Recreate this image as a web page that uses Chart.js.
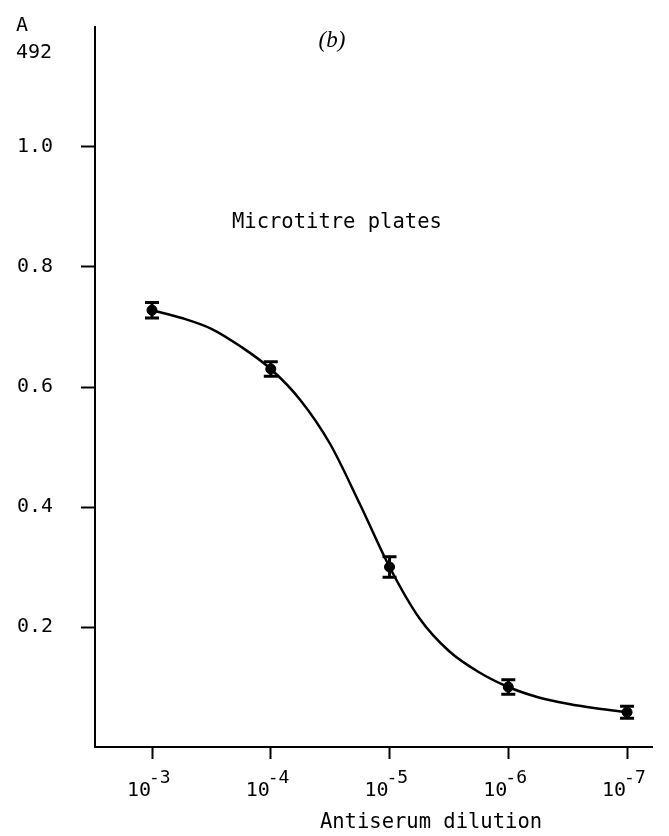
<!DOCTYPE html>
<html>
<head>
<meta charset="utf-8">
<script src="https://cdn.jsdelivr.net/npm/chart.js@4"></script>
<style>
  html, body { margin: 0; padding: 0; background: #fff; }
  #wrap { width: 669px; height: 836px; position: relative; }
</style>
</head>
<body>
<div id="wrap"><canvas id="chart" width="669" height="836"></canvas></div>
<script>
// dilution exponents (10^-n) and measured absorbance at 492 nm
const dilutionExp = [3, 4, 5, 6, 7];
const absorbance = [0.728, 0.63, 0.30, 0.10, 0.058];
const errors = [0.013, 0.012, 0.017, 0.012, 0.010];

// hand-drawn fitted curve, every quarter decade
const curveExp = [3, 3.25, 3.5, 3.75, 4, 4.25, 4.5, 4.75, 5, 5.25, 5.5, 5.75, 6, 6.25, 6.5, 6.75, 7];
const curveAbs = [0.728, 0.715, 0.697, 0.667, 0.63, 0.578, 0.505, 0.405, 0.30, 0.215, 0.16, 0.125, 0.10, 0.083, 0.072, 0.064, 0.058];

const yTicks = [0.2, 0.4, 0.6, 0.8, 1.0];
const xTicks = [3, 4, 5, 6, 7];

const MONO = "'DejaVu Sans Mono', monospace";

// error bars for the measured points
const errorBars = {
  id: 'errorBars',
  afterDatasetsDraw(chart) {
    const { ctx, scales: { x, y } } = chart;
    ctx.save();
    ctx.strokeStyle = '#000';
    ctx.lineWidth = 3;
    dilutionExp.forEach((e, i) => {
      const px = x.getPixelForValue(e);
      const top = y.getPixelForValue(absorbance[i] + errors[i]);
      const bot = y.getPixelForValue(absorbance[i] - errors[i]);
      ctx.beginPath();
      ctx.moveTo(px, top); ctx.lineTo(px, bot);
      ctx.moveTo(px - 7, top); ctx.lineTo(px + 7, top);
      ctx.moveTo(px - 7, bot); ctx.lineTo(px + 7, bot);
      ctx.stroke();
    });
    ctx.restore();
  }
};

// texts: axis titles, panel label, x tick labels with exponents
const labels = {
  id: 'labels',
  afterDraw(chart) {
    const { ctx, scales: { x } } = chart;
    ctx.save();
    ctx.fillStyle = '#000';
    ctx.textBaseline = 'alphabetic';
    ctx.font = '20px ' + MONO;
    ctx.textAlign = 'left';
    ctx.fillText('A', 16, 31);
    ctx.fillText('492', 16, 58);
    ctx.font = '20.5px ' + MONO;
    ctx.fillText('Microtitre plates', 232, 228);
    ctx.textAlign = 'center';
    ctx.fillText('Antiserum dilution', 431, 828);

    ctx.font = 'italic 23px "Liberation Serif", serif';
    ctx.fillText('(b)', 332, 47);

    xTicks.forEach(t => {
      const px = x.getPixelForValue(t);
      ctx.textAlign = 'right';
      ctx.font = '20px ' + MONO;
      ctx.fillText('10', px - 1, 796);
      ctx.textAlign = 'left';
      ctx.font = '18px ' + MONO;
      ctx.fillText('-' + t, px - 3, 783);
    });
    ctx.restore();
  }
};

new Chart(document.getElementById('chart'), {
  type: 'scatter',
  data: {
    datasets: [
      {
        label: 'Fitted curve',
        type: 'line',
        data: curveExp.map((e, i) => ({ x: e, y: curveAbs[i] })),
        borderColor: '#000',
        borderWidth: 2.5,
        pointRadius: 0,
        fill: false,
        cubicInterpolationMode: 'monotone'
      },
      {
        label: 'Microtitre plates',
        data: dilutionExp.map((e, i) => ({ x: e, y: absorbance[i] })),
        backgroundColor: '#000',
        borderColor: '#000',
        pointRadius: 5,
        showLine: false
      }
    ]
  },
  plugins: [errorBars, labels],
  options: {
    responsive: false,
    animation: false,
    layout: { padding: { top: 27, right: 17, left: 0, bottom: 0 } },
    plugins: {
      legend: { display: false },
      tooltip: { enabled: false }
    },
    scales: {
      x: {
        type: 'linear',
        min: 2.52,
        max: 7.21,
        afterBuildTicks: s => { s.ticks = xTicks.map(v => ({ value: v })); },
        afterFit: s => { s.height = 89; s.paddingLeft = 0; s.paddingRight = 0; },
        ticks: { display: false },
        grid: { drawOnChartArea: false, drawTicks: true, tickLength: 12, tickWidth: 2, tickColor: '#000' },
        border: { display: true, color: '#000', width: 2 }
      },
      y: {
        min: 0,
        max: 1.2,
        afterBuildTicks: s => { s.ticks = yTicks.map(v => ({ value: v })); },
        afterFit: s => { s.width = 95; s.paddingTop = 0; s.paddingBottom = 0; },
        ticks: {
          color: '#000',
          padding: 28,
          font: { family: MONO, size: 20 },
          callback: v => v.toFixed(1)
        },
        grid: { drawOnChartArea: false, drawTicks: true, tickLength: 14, tickWidth: 2, tickColor: '#000' },
        border: { display: true, color: '#000', width: 2 }
      }
    }
  }
});
</script>
</body>
</html>
